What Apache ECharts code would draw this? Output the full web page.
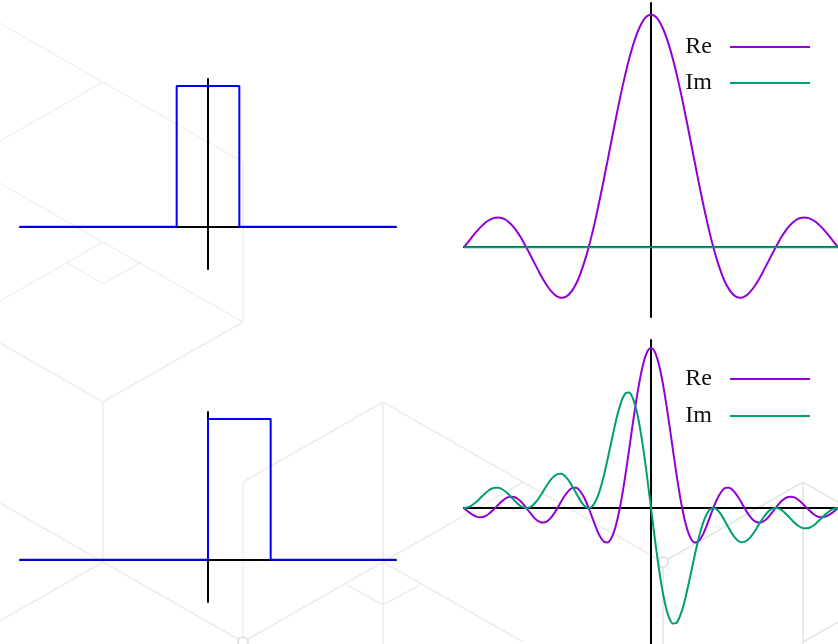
<!DOCTYPE html>
<html>
<head>
<meta charset="utf-8">
<script src="https://cdn.jsdelivr.net/npm/echarts@6/dist/echarts.min.js"></script>
<style>
html, body { margin: 0; padding: 0; background: #ffffff; }
#chart { width: 838px; height: 644px; }
</style>
</head>
<body>
<div id="chart"></div>
<script>
// Rectangular pulses (corner points of the outline)
const rectX = [-3, -0.5, -0.5, 0.5, 0.5, 3];
const rectY = [0, 0, 1, 1, 0, 0];
const shiftedRectX = [-3, 0, 0, 1, 1, 3];
const shiftedRectY = [0, 0, 1, 1, 0, 0];

// Frequency samples for the transforms
const freq = [
  -3.00, -2.95, -2.90, -2.85, -2.80, -2.75, -2.70, -2.65, -2.60, -2.55,
  -2.50, -2.45, -2.40, -2.35, -2.30, -2.25, -2.20, -2.15, -2.10, -2.05,
  -2.00, -1.95, -1.90, -1.85, -1.80, -1.75, -1.70, -1.65, -1.60, -1.55,
  -1.50, -1.45, -1.40, -1.35, -1.30, -1.25, -1.20, -1.15, -1.10, -1.05,
  -1.00, -0.95, -0.90, -0.85, -0.80, -0.75, -0.70, -0.65, -0.60, -0.55,
  -0.50, -0.45, -0.40, -0.35, -0.30, -0.25, -0.20, -0.15, -0.10, -0.05,
  0,
  0.05, 0.10, 0.15, 0.20, 0.25, 0.30, 0.35, 0.40, 0.45, 0.50,
  0.55, 0.60, 0.65, 0.70, 0.75, 0.80, 0.85, 0.90, 0.95, 1.00,
  1.05, 1.10, 1.15, 1.20, 1.25, 1.30, 1.35, 1.40, 1.45, 1.50,
  1.55, 1.60, 1.65, 1.70, 1.75, 1.80, 1.85, 1.90, 1.95, 2.00,
  2.05, 2.10, 2.15, 2.20, 2.25, 2.30, 2.35, 2.40, 2.45, 2.50,
  2.55, 2.60, 2.65, 2.70, 2.75, 2.80, 2.85, 2.90, 2.95, 3.00
];

// Transform of the centred pulse
const centeredRe = [
  0, 0.017, 0.034, 0.051, 0.067, 0.082, 0.095, 0.107, 0.116, 0.123,
  0.127, 0.128, 0.126, 0.121, 0.112, 0.100, 0.085, 0.067, 0.047, 0.024,
  0, -0.026, -0.052, -0.078, -0.104, -0.129, -0.152, -0.172, -0.189, -0.203,
  -0.212, -0.217, -0.216, -0.210, -0.198, -0.180, -0.156, -0.126, -0.089, -0.047,
  0, 0.052, 0.109, 0.170, 0.234, 0.300, 0.368, 0.436, 0.505, 0.572,
  0.637, 0.699, 0.757, 0.810, 0.858, 0.900, 0.935, 0.963, 0.984, 0.996,
  1,
  0.996, 0.984, 0.963, 0.935, 0.900, 0.858, 0.810, 0.757, 0.699, 0.637,
  0.572, 0.505, 0.436, 0.368, 0.300, 0.234, 0.170, 0.109, 0.052, 0,
  -0.047, -0.089, -0.126, -0.156, -0.180, -0.198, -0.210, -0.216, -0.217, -0.212,
  -0.203, -0.189, -0.172, -0.152, -0.129, -0.104, -0.078, -0.052, -0.026, 0,
  0.024, 0.047, 0.067, 0.085, 0.100, 0.112, 0.121, 0.126, 0.128, 0.127,
  0.123, 0.116, 0.107, 0.095, 0.082, 0.067, 0.051, 0.034, 0.017, 0
];
const centeredIm = [
  0, 0, 0, 0, 0, 0, 0, 0, 0, 0, 0, 0, 0, 0, 0, 0, 0, 0, 0, 0,
  0, 0, 0, 0, 0, 0, 0, 0, 0, 0, 0, 0, 0, 0, 0, 0, 0, 0, 0, 0,
  0, 0, 0, 0, 0, 0, 0, 0, 0, 0, 0, 0, 0, 0, 0, 0, 0, 0, 0, 0,
  0,
  0, 0, 0, 0, 0, 0, 0, 0, 0, 0, 0, 0, 0, 0, 0, 0, 0, 0, 0, 0,
  0, 0, 0, 0, 0, 0, 0, 0, 0, 0, 0, 0, 0, 0, 0, 0, 0, 0, 0, 0,
  0, 0, 0, 0, 0, 0, 0, 0, 0, 0, 0, 0, 0, 0, 0, 0, 0, 0, 0, 0
];

// Transform of the shifted pulse
const shiftedRe = [
  0, -0.017, -0.032, -0.045, -0.054, -0.058, -0.056, -0.049, -0.036, -0.019,
  0, 0.020, 0.039, 0.055, 0.066, 0.071, 0.069, 0.060, 0.045, 0.024,
  0, -0.025, -0.049, -0.070, -0.084, -0.091, -0.089, -0.078, -0.058, -0.032,
  0, 0.034, 0.067, 0.095, 0.116, 0.127, 0.126, 0.112, 0.085, 0.047,
  0, -0.052, -0.104, -0.152, -0.189, -0.212, -0.216, -0.198, -0.156, -0.089,
  0, 0.109, 0.234, 0.368, 0.505, 0.637, 0.757, 0.858, 0.935, 0.984,
  1,
  0.984, 0.935, 0.858, 0.757, 0.637, 0.505, 0.368, 0.234, 0.109, 0,
  -0.089, -0.156, -0.198, -0.216, -0.212, -0.189, -0.152, -0.104, -0.052, 0,
  0.047, 0.085, 0.112, 0.126, 0.127, 0.116, 0.095, 0.067, 0.034, 0,
  -0.032, -0.058, -0.078, -0.089, -0.091, -0.084, -0.070, -0.049, -0.025, 0,
  0.024, 0.045, 0.060, 0.069, 0.071, 0.066, 0.055, 0.039, 0.020, 0,
  -0.019, -0.036, -0.049, -0.056, -0.058, -0.054, -0.045, -0.032, -0.017, 0
];
const shiftedIm = [
  0, 0.003, 0.010, 0.023, 0.039, 0.058, 0.077, 0.095, 0.111, 0.122,
  0.127, 0.127, 0.120, 0.108, 0.091, 0.071, 0.050, 0.031, 0.014, 0.004,
  0, 0.004, 0.016, 0.036, 0.061, 0.091, 0.123, 0.153, 0.180, 0.200,
  0.212, 0.214, 0.206, 0.187, 0.160, 0.127, 0.092, 0.057, 0.028, 0.007,
  0, 0.008, 0.034, 0.077, 0.137, 0.212, 0.298, 0.389, 0.480, 0.565,
  0.637, 0.690, 0.720, 0.722, 0.694, 0.637, 0.550, 0.437, 0.304, 0.156,
  0,
  -0.156, -0.304, -0.437, -0.550, -0.637, -0.694, -0.722, -0.720, -0.690, -0.637,
  -0.565, -0.480, -0.389, -0.298, -0.212, -0.137, -0.077, -0.034, -0.008, 0,
  -0.007, -0.028, -0.057, -0.092, -0.127, -0.160, -0.187, -0.206, -0.214, -0.212,
  -0.200, -0.180, -0.153, -0.123, -0.091, -0.061, -0.036, -0.016, -0.004, 0,
  -0.004, -0.014, -0.031, -0.050, -0.071, -0.091, -0.108, -0.120, -0.127, -0.127,
  -0.122, -0.111, -0.095, -0.077, -0.058, -0.039, -0.023, -0.010, -0.003, 0
];

const legendNames = ['Re', 'Im'];

const BLUE = '#0000ff';
const PURPLE = '#9400d3';
const GREEN = '#009e73';

function pairs(xs, ys) {
  return xs.map(function (x, i) { return [x, ys[i]]; });
}

// Faint isometric cube backdrop
const backdropLight = '#f2f2f2';
const backdropMid = '#ececec';
const backdropDark = '#e3e3e3';
const backdropPaths = [
  { c: backdropLight, p: [[-37, 2], [243, 162], [243, 322]] },
  { c: backdropLight, p: [[-37, 162], [103, 82]] },
  { c: backdropLight, p: [[-37, 162], [243, 322]] },
  { c: backdropLight, p: [[-37, 322], [103, 242]] },
  { c: backdropLight, p: [[67, 263], [103, 284], [140, 263]] },
  { c: backdropMid, p: [[-37, 322], [103, 402], [243, 322]] },
  { c: backdropMid, p: [[103, 402], [103, 562]] },
  { c: backdropMid, p: [[-37, 482], [103, 562], [243, 642]] },
  { c: backdropMid, p: [[103, 562], [-37, 642]] },
  { c: backdropMid, p: [[243, 482], [383, 402], [663, 562]] },
  { c: backdropDark, p: [[663, 562], [803, 482], [943, 562]] },
  { c: backdropMid, p: [[243, 482], [243, 660]] },
  { c: backdropMid, p: [[383, 402], [383, 660]] },
  { c: backdropMid, p: [[243, 642], [383, 562], [523, 482]] },
  { c: backdropMid, p: [[383, 562], [523, 642]] },
  { c: backdropMid, p: [[347, 585], [383, 605], [420, 585]] },
  { c: backdropDark, p: [[663, 562], [663, 660]] },
  { c: backdropDark, p: [[803, 482], [803, 660]] },
  { c: backdropDark, p: [[803, 642], [943, 562]] }
];
const backdropNodes = [[663, 562], [243, 642]];

const graphics = backdropPaths.map(function (d) {
  return {
    type: 'polyline', silent: true, z: -10,
    shape: { points: d.p },
    style: { stroke: d.c, lineWidth: 1.5, fill: null }
  };
}).concat(backdropNodes.map(function (n) {
  return {
    type: 'circle', silent: true, z: -10,
    shape: { cx: n[0], cy: n[1], r: 5 },
    style: { stroke: backdropDark, lineWidth: 2, fill: '#ffffff' }
  };
}));

function xAxisDef(gridIndex) {
  return {
    type: 'value', gridIndex: gridIndex, min: -3, max: 3,
    axisLine: { show: true, onZero: true, lineStyle: { color: '#000000', width: 2 } },
    axisTick: { show: false }, axisLabel: { show: false }, splitLine: { show: false }
  };
}
function yAxisDef(gridIndex, min, max) {
  return {
    type: 'value', gridIndex: gridIndex, min: min, max: max,
    axisLine: { show: true, onZero: true, lineStyle: { color: '#000000', width: 2 } },
    axisTick: { show: false }, axisLabel: { show: false }, splitLine: { show: false }
  };
}
function curve(name, idx, color, xs, ys, smooth) {
  return {
    name: name, type: 'line', xAxisIndex: idx, yAxisIndex: idx,
    data: pairs(xs, ys), showSymbol: false, symbol: 'none', smooth: smooth,
    color: color, itemStyle: { color: color },
    lineStyle: { color: color, width: 2 }
  };
}
function legendDef(top, gap) {
  return {
    data: legendNames, orient: 'vertical', right: 28, top: top, padding: 0,
    align: 'right', icon: 'rect', itemWidth: 80, itemHeight: 2, itemGap: gap,
    selectedMode: false,
    textStyle: {
      fontFamily: 'Liberation Serif', fontSize: 24, color: '#111111',
      padding: [0, 13, 0, 0]
    }
  };
}

const chart = echarts.init(document.getElementById('chart'), null, { renderer: 'canvas' });
chart.setOption({
  animation: false,
  backgroundColor: '#ffffff',
  graphic: graphics,
  grid: [
    { left: 20, top: 79, width: 376, height: 190 },
    { left: 464, top: 3, width: 376, height: 314 },
    { left: 20, top: 412, width: 376, height: 190 },
    { left: 464, top: 340, width: 376, height: 312 }
  ],
  xAxis: [xAxisDef(0), xAxisDef(1), xAxisDef(2), xAxisDef(3)],
  yAxis: [
    yAxisDef(0, -0.3, 1.05),
    yAxisDef(1, -0.3, 1.05),
    yAxisDef(2, -0.3, 1.05),
    yAxisDef(3, -0.85, 1.05)
  ],
  legend: [legendDef(35, 12), legendDef(367, 13)],
  series: [
    curve('rect', 0, BLUE, rectX, rectY, false),
    curve('Re', 1, PURPLE, freq, centeredRe, 0.3),
    curve('Im', 1, GREEN, freq, centeredIm, false),
    curve('rect shifted', 2, BLUE, shiftedRectX, shiftedRectY, false),
    curve('Re', 3, PURPLE, freq, shiftedRe, 0.3),
    curve('Im', 3, GREEN, freq, shiftedIm, 0.3)
  ]
});
</script>
</body>
</html>
